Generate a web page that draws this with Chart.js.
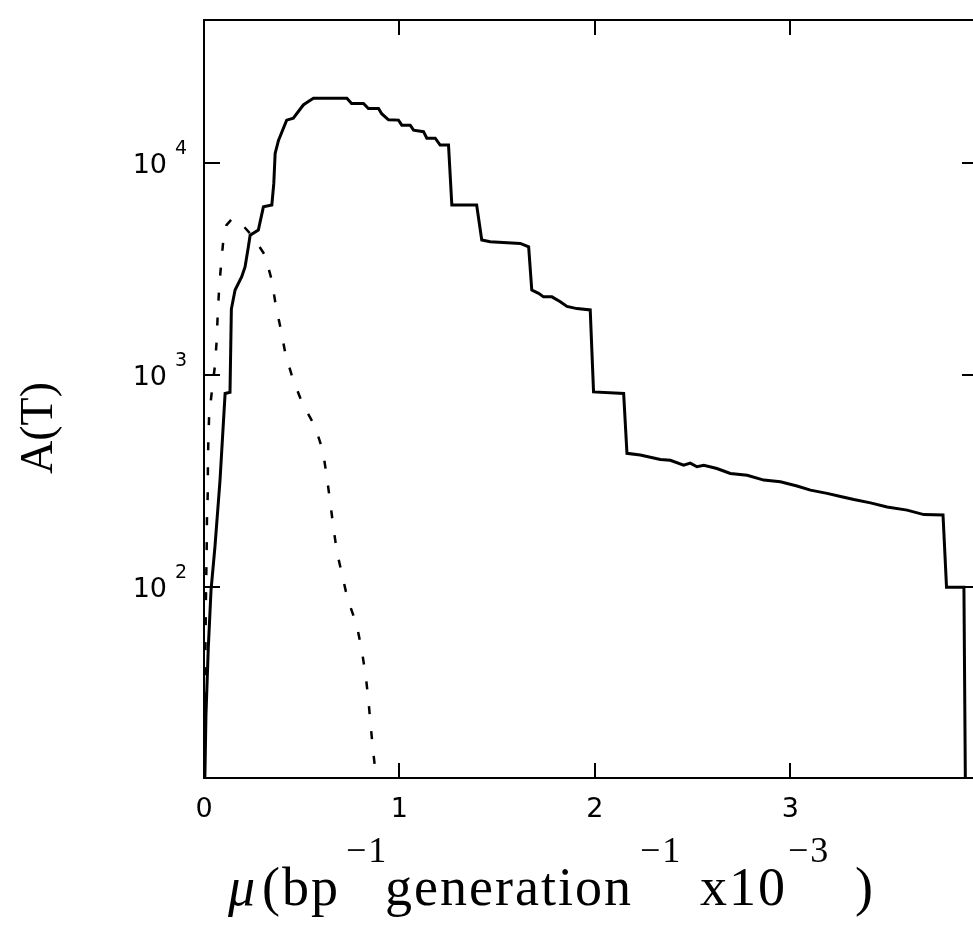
<!DOCTYPE html>
<html>
<head>
<meta charset="utf-8">
<script src="https://cdn.jsdelivr.net/npm/chart.js@4.4.1/dist/chart.umd.min.js"></script>
<style>
  html, body { margin: 0; padding: 0; background: #fff; overflow: hidden; }
  #wrap { width: 990px; height: 943px; }
</style>
</head>
<body>
<div id="wrap"><canvas id="chart" width="990" height="943"></canvas></div>
<script>
// solid curve
const muSolid = [0.004, 0.010, 0.022, 0.036, 0.056, 0.082, 0.108, 0.133, 0.140, 0.159,
  0.193, 0.210, 0.227, 0.236, 0.278, 0.304, 0.347, 0.357, 0.364, 0.381,
  0.423, 0.457, 0.508, 0.534, 0.560, 0.731, 0.755, 0.816, 0.841, 0.893,
  0.909, 0.944, 0.995, 1.012, 1.055, 1.072, 1.123, 1.140, 1.183, 1.208,
  1.251, 1.268, 1.395, 1.421, 1.464, 1.618, 1.661, 1.677, 1.712, 1.737,
  1.780, 1.823, 1.857, 1.908, 1.976, 1.993, 2.147, 2.164, 2.232, 2.335,
  2.386, 2.454, 2.488, 2.522, 2.557, 2.624, 2.693, 2.779, 2.864, 2.949,
  3.034, 3.103, 3.188, 3.257, 3.325, 3.410, 3.495, 3.597, 3.683, 3.781,
  3.799, 3.888, 3.896];
const aSolid = [12, 25, 52, 97, 155, 320, 820, 830, 2050, 2520,
  2910, 3240, 4030, 4570, 4830, 6220, 6340, 8000, 11100, 12800,
  15950, 16300, 18800, 19500, 20200, 20200, 19100, 19100, 18100, 18100,
  17100, 16000, 15950, 15100, 15100, 14300, 14070, 13100, 13100, 12160,
  12160, 6340, 6340, 4340, 4260, 4180, 4030, 2520, 2430, 2340,
  2340, 2220, 2110, 2060, 2030, 834, 820, 428, 420, 400,
  397, 376, 385, 370, 376, 363, 344, 337, 320, 314,
  300, 287, 277, 268, 259, 250, 239, 231, 220, 219,
  100, 100, 10];

// dashed curve
const muDashed = [0.002, 0.008, 0.010, 0.012, 0.014, 0.015, 0.019, 0.020, 0.022, 0.026,
  0.039, 0.056, 0.065, 0.070, 0.077, 0.087, 0.099, 0.115, 0.140, 0.172,
  0.250, 0.312, 0.347, 0.367, 0.394, 0.418, 0.457, 0.505,
  0.568, 0.608, 0.628, 0.645, 0.662, 0.680, 0.708, 0.734, 0.782, 0.807,
  0.828, 0.842, 0.853, 0.867, 0.879, 0.885];
const aDashed = [13, 60, 90, 120, 158, 207, 272, 363, 484, 635,
  820, 1110, 1460, 1920, 2520, 3300, 4340, 5100, 5420, 5420,
  4500, 3680, 2800, 2140, 1630, 1240, 946, 730,
  574, 440, 334, 255, 192, 147, 113, 88.5, 66, 50.5,
  38, 28.8, 22.1, 16.4, 13, 11];

const xTicks = [0, 1, 2, 3];
const xTickLabels = ['0', '1', '2', '3'];
const yTicks = [100, 1000, 10000];
const yTickExponents = ['2', '3', '4'];

const xMin = 0, xMax = 3.96;
const yMin = 12.6, yMax = 47300;

const toPoints = (xs, ys) => xs.map((v, i) => ({ x: v, y: ys[i] }));

const framePlugin = {
  id: 'frame',
  afterDatasetsDraw(chart) {
    const { ctx, chartArea: a, scales: { x, y } } = chart;
    ctx.save();
    ctx.strokeStyle = '#000';
    ctx.fillStyle = '#000';
    ctx.lineWidth = 2;
    ctx.strokeRect(a.left, a.top, a.right - a.left, a.bottom - a.top);

    // inward ticks on all four sides
    ctx.beginPath();
    xTicks.forEach(v => {
      const px = Math.round(x.getPixelForValue(v));
      ctx.moveTo(px, a.bottom); ctx.lineTo(px, a.bottom - 15);
      ctx.moveTo(px, a.top); ctx.lineTo(px, a.top + 15);
    });
    yTicks.forEach(v => {
      const py = Math.round(y.getPixelForValue(v));
      ctx.moveTo(a.left, py); ctx.lineTo(a.left + 16, py);
      ctx.moveTo(a.right, py); ctx.lineTo(a.right - 16, py);
    });
    ctx.stroke();

    // tick labels
    ctx.font = '27px "DejaVu Sans"';
    ctx.textAlign = 'center';
    ctx.textBaseline = 'alphabetic';
    xTicks.forEach((v, i) => {
      ctx.fillText(xTickLabels[i], x.getPixelForValue(v), a.bottom + 39);
    });
    yTicks.forEach((v, i) => {
      const py = y.getPixelForValue(v);
      ctx.font = '27px "DejaVu Sans"';
      ctx.textAlign = 'right';
      ctx.fillText('10', a.left - 37, py + 10);
      ctx.font = '19px "DejaVu Sans"';
      ctx.textAlign = 'left';
      ctx.fillText(yTickExponents[i], a.left - 29, py - 9);
    });

    // y title
    ctx.save();
    ctx.translate(52, 428);
    ctx.rotate(-Math.PI / 2);
    ctx.font = '46px "Liberation Serif"';
    ctx.textAlign = 'center';
    ctx.fillText('A(T)', 0, 0);
    ctx.restore();

    // x title, piece by piece
    const base = 905, sup = 862;
    const pieces = [
      { t: 'μ', x: 228, y: base, f: 'italic 54px "Liberation Serif"' },
      { t: '(bp', x: 262, y: base, f: '54px "Liberation Serif"' },
      { t: '\u22121', x: 346, y: sup, f: '36px "Liberation Serif"' },
      { t: 'generation', x: 385, y: base, f: '54px "Liberation Serif"' },
      { t: '\u22121', x: 640, y: sup, f: '36px "Liberation Serif"' },
      { t: 'x10', x: 700, y: base, f: '54px "Liberation Serif"' },
      { t: '\u22123', x: 788, y: sup, f: '36px "Liberation Serif"' },
      { t: ')', x: 855, y: base, f: '54px "Liberation Serif"' }
    ];
    ctx.textAlign = 'left';
    ctx.letterSpacing = '2px';
    pieces.forEach(p => {
      ctx.font = p.f;
      ctx.fillText(p.t, p.x, p.y);
    });
    ctx.restore();
  }
};

new Chart(document.getElementById('chart'), {
  type: 'scatter',
  data: {
    datasets: [
      {
        label: 'solid',
        data: toPoints(muSolid, aSolid),
        showLine: true,
        borderColor: '#000',
        borderWidth: 3,
        pointRadius: 0,
        tension: 0,
        fill: false
      },
      {
        label: 'dashed',
        data: toPoints(muDashed, aDashed),
        showLine: true,
        borderColor: '#000',
        borderWidth: 2.5,
        borderDash: [8, 17],
        pointRadius: 0,
        tension: 0,
        fill: false
      }
    ]
  },
  options: {
    responsive: false,
    animation: false,
    layout: { padding: { left: 204, top: 20, right: 12, bottom: 165 } },
    scales: {
      x: { type: 'linear', min: xMin, max: xMax, display: false },
      y: { type: 'logarithmic', min: yMin, max: yMax, display: false }
    },
    plugins: {
      legend: { display: false },
      tooltip: { enabled: false }
    }
  },
  plugins: [framePlugin]
});
</script>
</body>
</html>
